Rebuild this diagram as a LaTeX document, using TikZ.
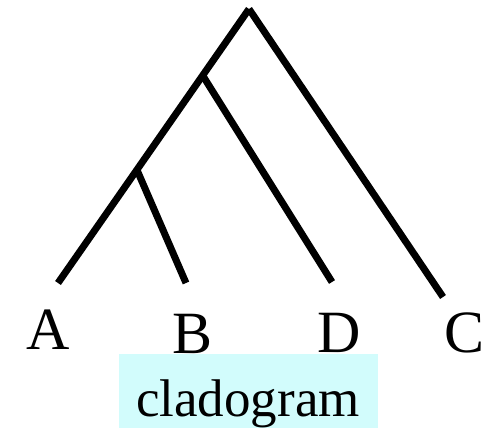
\documentclass[tikz,border=0pt]{standalone}
\usepackage{fontspec}
\setmainfont{Liberation Serif}
\definecolor{boxcyan}{RGB}{210,252,252}
\tikzset{
  branch/.style={line width=7pt, line cap=butt, black},
  taxon/.style={anchor=base, inner sep=0pt, font=\fontsize{60}{72}\selectfont},
  titlebox/.style={anchor=base, fill=boxcyan, inner xsep=0pt, inner ysep=0pt,
    minimum width=259pt, text height=62pt, text depth=12pt,
    font=\fontsize{53}{64}\selectfont}
}
\begin{document}
\begin{tikzpicture}[x=1pt,y=-1pt]
\useasboundingbox (0,0) rectangle (494,428);
\coordinate (root) at (249,9);
\coordinate (nD) at (203,76);
\coordinate (nB) at (137,170);
\coordinate (tA) at (58,283);
\coordinate (tB) at (186,283);
\coordinate (tD) at (332,282);
\coordinate (tC) at (443,297);
\draw[branch] (root) -- (tA);
\draw[branch] (root) -- (tC);
\draw[branch] (nD) -- (tD);
\draw[branch] (nB) -- (tB);
\node[taxon] (A) at (48,349) {A};
\node[taxon] (B) at (193,353) {B};
\node[taxon] (D) at (339,352) {D};
\node[taxon] (C) at (465,352) {C};
\node[titlebox] (clado) at (248,416) {cladogram};
\end{tikzpicture}
\end{document}
